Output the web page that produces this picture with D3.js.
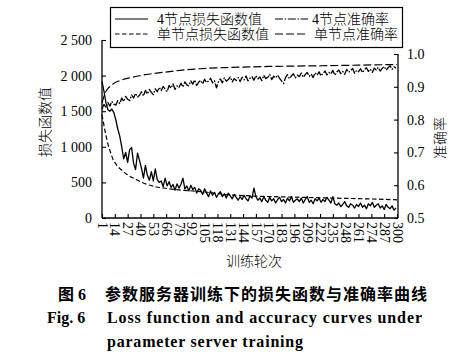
<!DOCTYPE html>
<html><head><meta charset="utf-8">
<script src="https://cdn.jsdelivr.net/npm/d3@7/dist/d3.min.js"></script>
<style>
html,body{margin:0;padding:0;background:#fff;}
svg{display:block;}
text{fill:#000;}
</style></head>
<body>
<svg id="c" width="465" height="359"></svg>
<script>
// ---------- data ----------
const xTickLabels = [1,14,27,40,53,66,79,92,105,118,131,144,157,170,183,196,209,222,235,248,261,274,287,300];
const leftTicks = [0,500,1000,1500,2000,2500];
const leftTickLabels = ["0","500","1 000","1 500","2 000","2 500"];
const rightTicks = [0.5,0.6,0.7,0.8,0.9,1.0];
const rightTickLabels = ["0.5","0.6","0.7","0.8","0.9","1.0"];
const seriesNames = ["4节点损失函数值","4节点准确率","单节点损失函数值","单节点准确率"];

// noisy series sampled every 2 epochs: 1,3,5,...,299
const sampleStep = 2;
const loss4 = [1920,1780,1620,1520,1500,1530,1480,1380,1250,1150,
  1000,830,920,780,960,990,770,680,910,810,
  700,560,740,600,530,650,520,690,540,500,
  520,440,560,450,510,430,470,390,480,420,
  470,560,410,450,380,460,400,430,350,410,
  390,330,410,350,300,380,320,360,290,340,
  370,300,340,280,350,310,270,330,290,250,
  300,260,320,270,240,310,280,420,300,250,
  280,230,300,250,220,290,240,270,210,260,
  290,230,260,210,280,240,300,220,250,270,
  230,280,210,260,300,220,250,200,270,240,
  280,220,260,230,290,250,210,300,200,180,
  210,160,190,230,170,150,200,180,140,190,
  160,210,150,180,130,200,170,220,150,180,
  200,140,170,120,190,150,130,170,110,140];
const acc4 = [0.833,0.846,0.838,0.852,0.841,0.856,0.847,0.844,0.858,0.849,
  0.866,0.855,0.871,0.862,0.858,0.875,0.866,0.880,0.869,0.874,
  0.885,0.872,0.889,0.878,0.892,0.883,0.876,0.894,0.885,0.898,
  0.888,0.901,0.893,0.885,0.904,0.896,0.909,0.892,0.903,0.898,
  0.911,0.899,0.915,0.906,0.903,0.918,0.908,0.921,0.904,0.914,
  0.920,0.909,0.923,0.913,0.918,0.926,0.912,0.919,0.897,0.915,
  0.924,0.912,0.927,0.917,0.922,0.930,0.915,0.925,0.919,0.928,
  0.916,0.929,0.921,0.933,0.918,0.926,0.931,0.920,0.934,0.924,
  0.930,0.919,0.935,0.925,0.929,0.938,0.922,0.932,0.927,0.936,
  0.926,0.918,0.910,0.928,0.937,0.925,0.933,0.940,0.927,0.936,
  0.931,0.942,0.929,0.937,0.944,0.932,0.939,0.928,0.943,0.935,
  0.946,0.933,0.941,0.948,0.936,0.944,0.939,0.950,0.935,0.945,
  0.951,0.940,0.947,0.938,0.953,0.944,0.949,0.956,0.941,0.950,
  0.946,0.955,0.943,0.952,0.958,0.947,0.954,0.944,0.957,0.951,
  0.959,0.948,0.956,0.962,0.951,0.958,0.964,0.953,0.961,0.957];

// smooth series, read at chosen epochs
const lossSingleEpochs = [1,3,5,7,9,12,15,18,22,26,30,35,40,47,55,65,75,85,95,105,115,125,140,160,180,200,220,240,260,280,300];
const lossSingle = [1450,1300,1160,1040,950,830,760,710,660,615,580,545,510,470,440,418,400,388,378,365,348,330,318,305,298,292,285,278,272,265,255];
const accSingleEpochs = [1,4,7,10,14,20,30,45,60,80,100,130,170,220,260,300];
const accSingle = [0.850,0.880,0.895,0.903,0.912,0.920,0.928,0.937,0.943,0.950,0.955,0.959,0.962,0.964,0.966,0.968];

// ---------- drawing ----------
const svg = d3.select("#c");
const serif = "'Liberation Serif','Times New Roman','Noto Sans CJK SC',serif";
const cjk = "'Liberation Serif','Noto Sans CJK SC',sans-serif";

const x = d3.scaleLinear().domain([1,300]).range([102,397]);
const yL = d3.scaleLinear().domain([0,2500]).range([218,40]);
const yR = d3.scaleLinear().domain([0.5,1.0]).range([218,54]);
const xLeft = 102, xRight = 398, yBottom = 218;

const styles = {
  loss4: {dash:null, w:1.3},
  acc4: {dash:"8,1.6,1.6,1.6", w:1.3},
  lossS: {dash:"4.5,2.5", w:1.2},
  accS: {dash:"8,3", w:1.2}
};

// axes
const axL = d3.axisLeft(yL).tickValues(leftTicks).tickFormat((d,i)=>leftTickLabels[i]).tickSizeInner(-4).tickSizeOuter(0).tickPadding(10);
const axR = d3.axisRight(yR).tickValues(rightTicks).tickFormat((d,i)=>rightTickLabels[i]).tickSizeInner(-4).tickSizeOuter(0).tickPadding(9);
const axB = d3.axisBottom(x).tickValues(xTickLabels).tickFormat(d=>d).tickSizeInner(-4).tickSizeOuter(0);

const gL = svg.append("g").attr("transform",`translate(${xLeft},0)`).call(axL);
const gR = svg.append("g").attr("transform",`translate(${xRight},0)`).call(axR);
const gB = svg.append("g").attr("transform",`translate(0,${yBottom})`).call(axB);
[gL,gR,gB].forEach(g=>{
  g.selectAll("path.domain").attr("stroke","#000").attr("stroke-width",1.3);
  g.selectAll(".tick line").attr("stroke","#000").attr("stroke-width",1.1);
  g.selectAll("text").attr("font-family",serif).attr("font-size",14).attr("fill","#000");
});
gL.select("path.domain").attr("d",`M0,${yL(2500)}V${yBottom}`);
gR.select("path.domain").attr("d",`M0,${yR(1.0)}V${yBottom}`);
gB.select("path.domain").attr("d",`M${xLeft},0H${xRight}`);
gB.selectAll(".tick text")
  .attr("transform","rotate(90)")
  .attr("text-anchor","start")
  .attr("x",4).attr("y",0).attr("dy","0.35em");

// lines
const plot = svg.append("g");
const lineL = d3.line().x(d=>x(d[0])).y(d=>yL(d[1]));
const lineR = d3.line().x(d=>x(d[0])).y(d=>yR(d[1]));
const smoothL = d3.line().curve(d3.curveMonotoneX).x(d=>x(d[0])).y(d=>yL(d[1]));
const smoothR = d3.line().curve(d3.curveMonotoneX).x(d=>x(d[0])).y(d=>yR(d[1]));

const loss4Pts = loss4.map((v,i)=>[1+i*sampleStep, v]);
const acc4Pts = acc4.map((v,i)=>[1+i*sampleStep, v]);
const lossSPts = lossSingle.map((v,i)=>[lossSingleEpochs[i], v]);
const accSPts = accSingle.map((v,i)=>[accSingleEpochs[i], v]);

function addPath(d, st){
  const p = plot.append("path").attr("d",d).attr("fill","none").attr("stroke","#000")
    .attr("stroke-width",st.w).attr("stroke-linejoin","round");
  if(st.dash) p.attr("stroke-dasharray",st.dash);
}
addPath(smoothR(accSPts), styles.accS);
addPath(smoothL(lossSPts), styles.lossS);
addPath(lineR(acc4Pts), styles.acc4);
addPath(lineL(loss4Pts), styles.loss4);

// legend
const lg = svg.append("g");
lg.append("rect").attr("x",110.5).attr("y",7.5).attr("width",292).attr("height",40)
  .attr("fill","#fff").attr("stroke","#000").attr("stroke-width",1.2);
const legendItems = [
  {name:seriesNames[0], st:styles.loss4, lx:115, tx:157, y:19},
  {name:seriesNames[1], st:styles.acc4,  lx:275, tx:312, y:19},
  {name:seriesNames[2], st:styles.lossS, lx:115, tx:157, y:34},
  {name:seriesNames[3], st:styles.accS,  lx:275, tx:314, y:34}
];
legendItems.forEach(it=>{
  const l = lg.append("line").attr("x1",it.lx).attr("x2",it.lx+33).attr("y1",it.y).attr("y2",it.y)
    .attr("stroke","#000").attr("stroke-width",1.2);
  if(it.st.dash) l.attr("stroke-dasharray",it.st.dash);
  lg.append("text").attr("x",it.tx).attr("y",it.y+5).attr("font-family",cjk)
    .attr("font-size",14).attr("font-weight",300).text(it.name);
});

// axis titles
svg.append("text").attr("transform","translate(50,122) rotate(-90)").attr("text-anchor","middle")
  .attr("font-family",cjk).attr("font-size",14).attr("font-weight",300).text("损失函数值");
svg.append("text").attr("transform","translate(445,138) rotate(-90)").attr("text-anchor","middle")
  .attr("font-family",cjk).attr("font-size",14).attr("font-weight",300).text("准确率");
svg.append("text").attr("x",254).attr("y",266).attr("text-anchor","middle")
  .attr("font-family",cjk).attr("font-size",14).attr("font-weight",300).text("训练轮次");

// caption
svg.append("text").attr("x",58).attr("y",300).attr("font-family",cjk).attr("font-size",16).attr("font-weight",700).text("图 6");
svg.append("text").attr("x",105).attr("y",300).attr("font-family","'Noto Sans CJK SC',sans-serif").attr("font-size",16).attr("font-weight",700)
  .attr("textLength",322).attr("lengthAdjust","spacing").text("参数服务器训练下的损失函数与准确率曲线");
svg.append("text").attr("x",47).attr("y",323).attr("font-family",serif).attr("font-size",16).attr("font-weight",700).text("Fig. 6");
svg.append("text").attr("x",107).attr("y",323).attr("font-family",serif).attr("font-size",16).attr("font-weight",700)
  .attr("textLength",315).attr("lengthAdjust","spacing").text("Loss function and accuracy curves under");
svg.append("text").attr("x",107).attr("y",347).attr("font-family",serif).attr("font-size",16).attr("font-weight",700)
  .attr("textLength",196).attr("lengthAdjust","spacing").text("parameter server training");
</script>
</body></html>
